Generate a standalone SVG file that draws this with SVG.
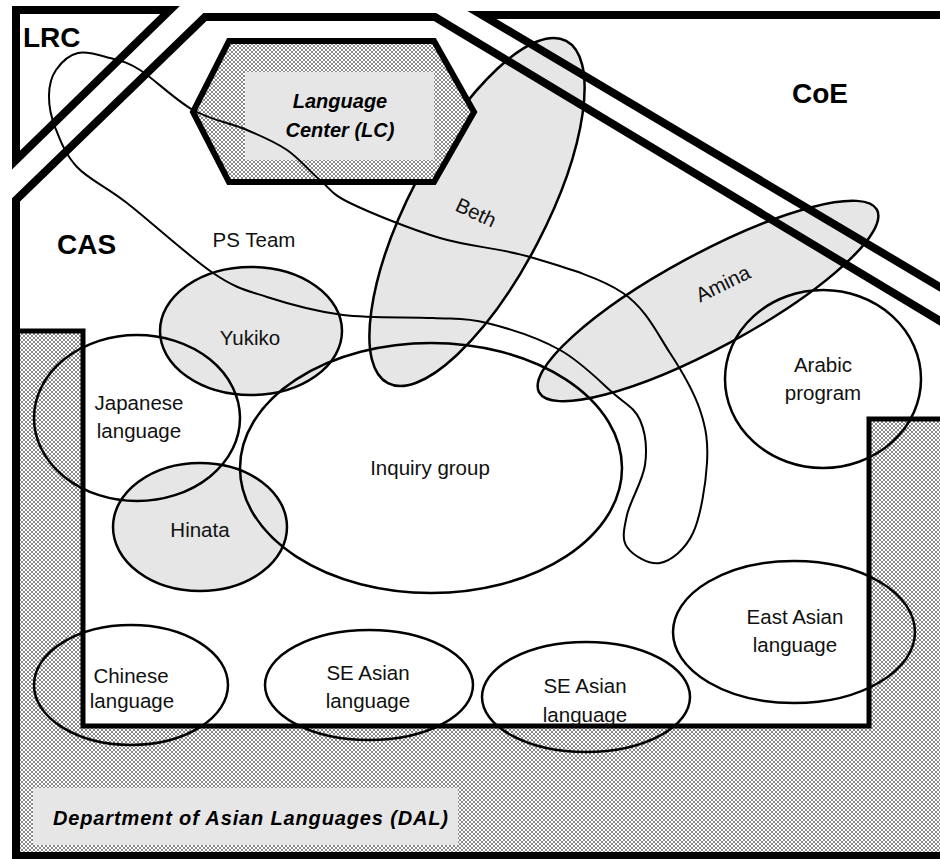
<svg xmlns="http://www.w3.org/2000/svg" width="940" height="859" viewBox="0 0 940 859">
  <defs>
    <pattern id="hatch" width="4" height="4" patternUnits="userSpaceOnUse">
      <rect width="4" height="4" fill="#ffffff"/>
      <path d="M0,0L4,4M4,0L0,4" stroke="#8a8a8a" stroke-width="1"/>
    </pattern>
    <style>
      .txt { font-family: "Liberation Sans", Arial, sans-serif; font-size: 20.5px; fill: #111; text-anchor: middle; }
      .big { font-family: "Liberation Sans", Arial, sans-serif; font-size: 28px; font-weight: bold; fill: #000; }
      .unit { font-family: "Liberation Sans", Arial, sans-serif; font-size: 20px; font-weight: bold; font-style: italic; fill: #000; }
      .grey { fill: #e6e6e6; stroke: #000; stroke-width: 2.5; }
      .open { fill: none; stroke: #000; stroke-width: 2.5; }
      .wall { fill: none; stroke: #000; stroke-width: 8; stroke-linejoin: miter; }
    </style>
  </defs>

  <rect width="940" height="859" fill="#ffffff"/>

  <!-- Department of Asian Languages: hatched band round the inner area -->
  <g id="dal">
    <path d="M16,331 H83 V726 H869 V419 H950 V856 H16 Z" fill="url(#hatch)"/>
    <rect x="33" y="788" width="425" height="57" fill="#e6e6e6"/>
    <text class="unit" x="53" y="825" textLength="395">Department of Asian Languages (DAL)</text>
  </g>

  <!-- people -->
  <g id="beth">
    <ellipse class="grey" cx="477" cy="212" rx="193" ry="68" transform="rotate(-62.5 477 212)"/>
  </g>
  <g id="amina">
    <ellipse class="grey" cx="708" cy="301" rx="192" ry="47" transform="rotate(-28.4 708 301)"/>
  </g>
  <g id="yukiko">
    <ellipse class="grey" cx="251" cy="331" rx="91" ry="64"/>
  </g>
  <g id="hinata">
    <ellipse class="grey" cx="200" cy="527" rx="87" ry="64"/>
  </g>

  <!-- Language Center hexagon -->
  <g id="lc">
    <polygon points="229,41 434,41 474,112 434,182 229,182 193,112" fill="url(#hatch)"/>
    <rect x="245" y="72" width="189" height="88" fill="#e6e6e6"/>
    <polygon points="229,41 434,41 474,112 434,182 229,182 193,112" fill="none" stroke="#000" stroke-width="6"/>
    <text class="unit" x="340" y="108" text-anchor="middle">Language</text>
    <text class="unit" x="340" y="137" text-anchor="middle">Center (LC)</text>
  </g>

  <!-- groups and programs -->
  <g id="japanese"><ellipse class="open" cx="137" cy="418" rx="103" ry="83"/></g>
  <g id="inquiry"><ellipse class="open" cx="431" cy="468" rx="191" ry="125"/></g>
  <g id="arabic"><ellipse class="open" cx="823" cy="379" rx="98" ry="89"/></g>
  <g id="chinese"><ellipse class="open" cx="131" cy="685" rx="97" ry="60"/></g>
  <g id="se-asian-1"><ellipse class="open" cx="369" cy="685" rx="104" ry="55"/></g>
  <g id="se-asian-2"><ellipse class="open" cx="586" cy="697" rx="104" ry="55"/></g>
  <g id="east-asian"><ellipse class="open" cx="794" cy="632" rx="121" ry="71"/></g>

  <!-- PS Team boundary loop -->
  <g id="ps-team">
    <path fill="none" stroke="#000" stroke-width="2" d="M78,53 C87,51 99.7,55.2 110,58 C120.3,60.8 126.2,61.3 140,70 C153.8,78.7 175.2,100 193,110 C210.8,120 231.3,123.3 247,130 C262.7,136.7 274.8,141.7 287,150 C299.2,158.3 309.5,171.2 320,180 C330.5,188.8 330,193.3 350,203 C370,212.7 410,229 440,238 C470,247 499.5,247.8 530,257 C560.5,266.2 599.7,277 623,293 C646.3,309 657.2,333.5 670,353 C682.8,372.5 693.8,391.7 700,410 C706.2,428.3 708.2,442.5 707,463 C705.8,483.5 700.8,516.3 693,533 C685.2,549.7 671,560.7 660,563 C649,565.3 632.5,555 627,547 C621.5,539 624,528.7 627,515 C630,501.3 642.8,480.8 645,465 C647.2,449.2 645.3,432 640,420 C634.7,408 626.3,404.7 613,393 C599.7,381.3 581,361.7 560,350 C539,338.3 508.2,328.3 487,323 C465.8,317.7 457,319.3 433,318 C409,316.7 370.7,318.5 343,315 C315.3,311.5 288.7,304 267,297 C245.3,290 236.3,288.7 213,273 C189.7,257.3 149.7,220.7 127,203 C104.3,185.3 89,179.7 77,167 C65,154.3 59.7,139 55,127 C50.3,115 48.8,104.5 49,95 C49.2,85.5 51.2,77 56,70 C60.8,63 69,55 78,53 Z"/>
  </g>

  <!-- organisational boundaries -->
  <g id="boundaries">
    <path d="M16,331 H83 V726 H869 V419 H950" fill="none" stroke="#000" stroke-width="5"/>
    <polygon class="wall" points="16,856 16,200 205,17 435,17 950,327 950,856"/>
    <path class="wall" d="M950,293 L482,15 L950,15"/>
    <polygon class="wall" points="16,10 170,10 16,160"/>
  </g>

  <!-- labels -->
  <g id="labels">
    <text class="big" x="23" y="47">LRC</text>
    <text class="big" x="792" y="103">CoE</text>
    <text class="big" x="57" y="254">CAS</text>
    <text class="txt" x="254" y="247">PS Team</text>
    <text class="txt" x="250" y="345">Yukiko</text>
    <text class="txt" x="139" y="410">Japanese</text>
    <text class="txt" x="139" y="438">language</text>
    <text class="txt" x="430" y="475">Inquiry group</text>
    <text class="txt" x="200" y="537">Hinata</text>
    <text class="txt" x="823" y="372">Arabic</text>
    <text class="txt" x="823" y="400">program</text>
    <text class="txt" x="131" y="683">Chinese</text>
    <text class="txt" x="132" y="708">language</text>
    <text class="txt" x="368" y="680">SE Asian</text>
    <text class="txt" x="368" y="708">language</text>
    <text class="txt" x="585" y="693">SE Asian</text>
    <text class="txt" x="585" y="722">language</text>
    <text class="txt" x="795" y="624">East Asian</text>
    <text class="txt" x="795" y="652">language</text>
    <text class="txt" transform="translate(473,219) rotate(25)">Beth</text>
    <text class="txt" transform="translate(726,290) rotate(-26)">Amina</text>
  </g>
</svg>
